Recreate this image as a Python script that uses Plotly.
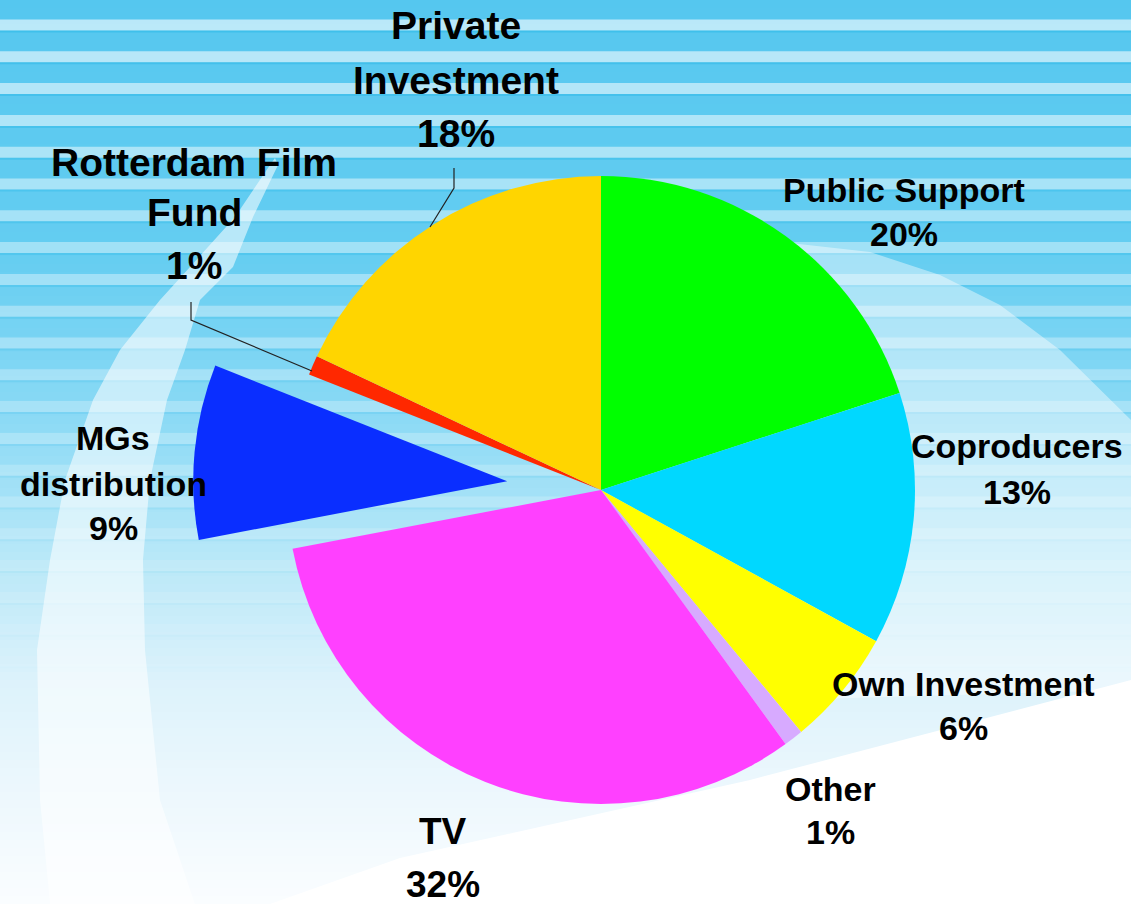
import plotly.graph_objects as go

W, H = 1131, 904

# ---- data ----
labels = ["Public Support", "Coproducers", "Own Investment", "Other", "TV",
          "MGs distribution", "Rotterdam Film Fund", "Private Investment"]
values = [20, 13, 6, 1, 32, 9, 1, 18]
colors = ["#00FF00", "#00D8FF", "#FFFF00", "#D7AAFF", "#FF40FF",
          "#0A2EFF", "#FF2800", "#FFD500"]
pulls = [0, 0, 0, 0, 0, 0.3, 0, 0]
# label lines as shown on the chart
label_lines = [["Public Support"], ["Coproducers"], ["Own Investment"], ["Other"], ["TV"],
               ["MGs", "distribution"], ["Rotterdam Film", "Fund"], ["Private", "Investment"]]

# ---- layout helpers (pixel -> paper) ----
def px(x):
    return x / W

def py(y):
    return 1 - y / H

# pie geometry: center (601,490), radius 314, max pull 0.3
cx, cy, r = 601, 490, 314
half = r * 1.3
dom_x = [px(cx - half), px(cx + half)]
dom_y = [py(cy + half), py(cy - half)]

fig = go.Figure(go.Pie(
    labels=labels, values=values, sort=False, direction="clockwise", rotation=0,
    pull=pulls, marker=dict(colors=colors, line=dict(width=0)),
    textinfo="none", showlegend=False, domain=dict(x=dom_x, y=dom_y),
    hoverinfo="label+percent"))

shapes = []

# ---- background gradient ----
stops = [(0, (85, 199, 239)), (250, (100, 205, 241)), (420, (140, 218, 245)),
         (560, (185, 232, 248)), (680, (220, 242, 251)), (800, (238, 248, 253)),
         (904, (250, 253, 255))]

def base_col(y):
    for (y0, c0), (y1, c1) in zip(stops[:-1], stops[1:]):
        if y0 <= y <= y1:
            t = (y - y0) / (y1 - y0)
            return tuple(int(round(a + (b - a) * t)) for a, b in zip(c0, c1))
    return stops[-1][1]

step = 8
for y in range(0, H, step):
    c = base_col(y + step / 2)
    shapes.append(dict(type="rect", xref="paper", yref="paper", layer="below",
                       x0=0, x1=1, y0=py(y + step + 0.5), y1=py(y),
                       fillcolor="rgb(%d,%d,%d)" % c, line=dict(width=0)))

# horizontal light stripes
k = 0
while True:
    yc = 25 + 31.8 * k
    if yc > 680:
        break
    a = max(0.0, 0.62 * (1 - yc / 690))
    shapes.append(dict(type="rect", xref="paper", yref="paper", layer="below",
                       x0=0, x1=1, y0=py(yc + 5.5), y1=py(yc - 5.5),
                       fillcolor="rgba(255,255,255,%.3f)" % a, line=dict(width=0)))
    shapes.append(dict(type="rect", xref="paper", yref="paper", layer="below",
                       x0=0, x1=1, y0=py(yc + 7.5), y1=py(yc + 5.5),
                       fillcolor="rgba(0,170,225,%.3f)" % (a * 0.45), line=dict(width=0)))
    k += 1

def path_of(pts):
    return "M " + " L ".join("%.5f,%.5f" % (px(x), py(y)) for x, y in pts) + " Z"

# left swoosh
left_sw = [(275, 158), (270, 165), (235, 217), (190, 267), (160, 300), (120, 350), (93, 400),
           (65, 480), (50, 560), (37, 650), (40, 800), (50, 904),
           (195, 904), (160, 800), (145, 650), (143, 560), (150, 480), (167, 400),
           (185, 350), (200, 300), (233, 267), (253, 217), (278, 165)]
shapes.append(dict(type="path", xref="paper", yref="paper", layer="below",
                   path=path_of(left_sw), fillcolor="rgba(255,255,255,0.55)", line=dict(width=0)))

# right pale sweep (inner edge hidden behind the pie)
right_sw = [(790, 243), (870, 252), (940, 275), (1000, 305), (1060, 350), (1131, 420),
            (1131, 690), (780, 700), (800, 600), (820, 420), (800, 300), (780, 282)]
shapes.append(dict(type="path", xref="paper", yref="paper", layer="below",
                   path=path_of(right_sw), fillcolor="rgba(255,255,255,0.42)", line=dict(width=0)))

# bottom-right white area
white_pts = [(1131, 680), (750, 780), (400, 858), (270, 904), (1131, 904)]
shapes.append(dict(type="path", xref="paper", yref="paper", layer="below",
                   path=path_of(white_pts), fillcolor="#FFFFFF", line=dict(width=0)))

# leader lines
def leader(pts):
    p = "M " + " L ".join("%.5f,%.5f" % (px(x), py(y)) for x, y in pts)
    return dict(type="path", xref="paper", yref="paper", layer="above", path=p,
                line=dict(color="#222222", width=1.2))

shapes.append(leader([(430, 227), (454, 188), (454, 168)]))
shapes.append(leader([(312, 371), (191, 320), (191, 302)]))

# ---- labels ----
# per slice: x center, y of each line (cap centers), font size
label_pos = [
    (904, [189.5, 234.5], 34),
    (1017, [446, 492], 34),
    (963, [684, 728], 34),
    (830, [789, 832], 34),
    (443, [831.5, 884.5], 37),
    (113, [438, 484, 528], 34),
    (194, [162.5, 212.5, 265.5], 39),
    (456, [26, 80, 133], 39),
]

annotations = []
for lines, v, (x, ys, fs) in zip(label_lines, values, label_pos):
    texts = lines + ["%d%%" % v]
    for t, y in zip(texts, ys):
        annotations.append(dict(text=t, x=px(x), y=py(y), xref="paper", yref="paper",
                                xanchor="center", yanchor="middle", showarrow=False,
                                font=dict(family="Liberation Sans, Arial, sans-serif",
                                          size=fs, color="black", weight="bold")))

fig.update_layout(width=W, height=H, margin=dict(l=0, r=0, t=0, b=0),
                  paper_bgcolor="white", plot_bgcolor="white",
                  shapes=shapes, annotations=annotations)

fig.write_html("out.html", config={"displayModeBar": False},
               post_script="document.body.style.margin='0';document.body.style.overflow='hidden';")
